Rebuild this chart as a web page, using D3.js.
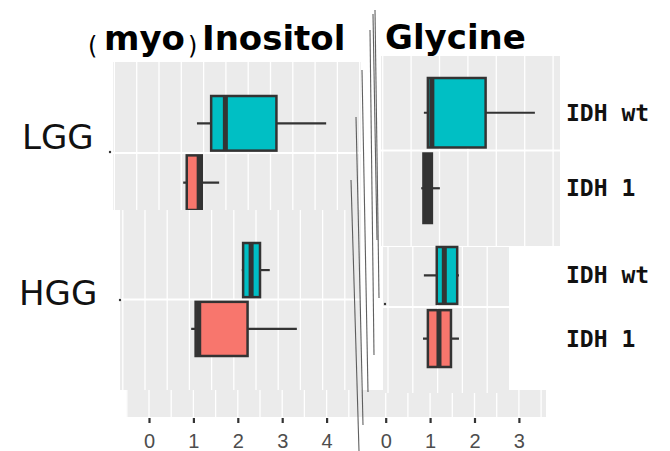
<!DOCTYPE html>
<html>
<head>
<meta charset="utf-8">
<script src="https://cdnjs.cloudflare.com/ajax/libs/d3/7.8.5/d3.min.js"></script>
<style>
body{margin:0;background:#fff;}
svg{display:block;}
</style>
</head>
<body>
<svg></svg>
<script>
var width = 670;
var height = 451;

var grades = ["LGG", "HGG"];
var groups = ["IDH wt", "IDH 1"];
var inositolTicks = [0, 1, 2, 3, 4];
var glycineTicks = [0, 1, 2, 3];
// each box: [lower whisker, Q1, median, Q3, upper whisker]
var inositolLGG = [[1.08, 1.40, 1.72, 2.87, 3.99], [0.77, 0.85, 1.13, 1.19, 1.58]];
var inositolHGG = [[2.09, 2.12, 2.30, 2.50, 2.72], [0.95, 1.05, 1.12, 2.22, 3.33]];
var glycineLGG = [[0.86, 0.95, 1.04, 2.25, 3.36], [0.80, 0.85, 0.95, 1.04, 1.22]];
var glycineHGG = [[0.86, 1.15, 1.32, 1.61, 1.65], [0.84, 0.95, 1.20, 1.47, 1.65]];

var colorScale = d3.scaleOrdinal().domain(groups).range(["#00BFC4", "#F8766D"]);
var xInositol = d3.scaleLinear().domain([0, 4]).range([149, 326.6]);
var xGlycine = d3.scaleLinear().domain([0, 3]).range([385.7, 518.9]);

//the figure is a patchwork, every piece has its own grey area and grid
var panels = [
  {stats: inositolLGG, x: xInositol, area: [113, 361, 62, 210], rows: [96, 210], pad: 0.08, grid: [159, 203.6]},
  {stats: inositolHGG, x: xInositol, area: [120, 361, 210, 390], rows: [243, 356], pad: 0.08, grid: [145, 189.4]},
  {stats: glycineLGG, x: xGlycine, area: [381, 560, 56, 246], rows: [78, 223], pad: 0.08, grid: [382.7, 439.5]},
  {stats: glycineHGG, x: xGlycine, area: [383, 509, 247, 393], rows: [247, 367], pad: 0.1, grid: [388, 437.6]}
];

var svg = d3.select("svg")
    .attr("width", width)
    .attr("height", height);

//bottom strip above the axes
svg.append("rect")
    .attr("x", 126).attr("y", 390)
    .attr("width", 420).attr("height", 27)
    .attr("fill", "#EBEBEB");
var stripLines = d3.range(-0.5, 4.6, 0.5).map(v => xInositol(v))
    .concat(d3.range(0, 3.6, 0.5).map(v => xGlycine(v)));
svg.selectAll(".stripgrid")
    .data(stripLines)
  .enter().append("line")
    .attr("x1", d => d).attr("x2", d => d)
    .attr("y1", 390).attr("y2", 417)
    .attr("stroke", "#fff")
    .attr("stroke-width", 1.3);

panels.forEach(function(p) {
  var g = svg.append("g");
  var a = p.area;
  g.append("rect")
      .attr("x", a[0]).attr("y", a[2])
      .attr("width", a[1] - a[0]).attr("height", a[3] - a[2])
      .attr("fill", "#EBEBEB");

  var gx = d3.scaleLinear().domain([0, 1]).range(p.grid);
  var lo = Math.ceil(gx.invert(a[0]) * 2) / 2;
  var hi = gx.invert(a[1]);
  g.selectAll(".grid")
      .data(d3.range(lo, hi, 0.5))
    .enter().append("line")
      .attr("x1", d => gx(d)).attr("x2", d => gx(d))
      .attr("y1", a[2]).attr("y2", a[3])
      .attr("stroke", "#fff")
      .attr("stroke-width", 1.3);

  var y = d3.scaleBand().domain(groups).range(p.rows).paddingInner(p.pad);
  var sep = y(groups[1]) - (y.step() - y.bandwidth()) / 2;
  g.append("line")
      .attr("x1", a[0]).attr("x2", a[1])
      .attr("y1", sep).attr("y2", sep)
      .attr("stroke", "#fff")
      .attr("stroke-width", 2);

  var boxes = g.selectAll(".box")
      .data(p.stats.map((s, i) => ({group: groups[i], s: s})))
    .enter().append("g");
  boxes.append("line")
      .attr("x1", d => p.x(d.s[0])).attr("x2", d => p.x(d.s[4]))
      .attr("y1", d => y(d.group) + y.bandwidth() / 2)
      .attr("y2", d => y(d.group) + y.bandwidth() / 2)
      .attr("stroke", "#333")
      .attr("stroke-width", 2.2);
  boxes.append("rect")
      .attr("x", d => p.x(d.s[1]))
      .attr("width", d => p.x(d.s[3]) - p.x(d.s[1]))
      .attr("y", d => y(d.group))
      .attr("height", y.bandwidth())
      //very narrow boxes turn completely dark in the picture
      .attr("fill", d => p.x(d.s[3]) - p.x(d.s[1]) < 12 ? "#333" : colorScale(d.group))
      .attr("stroke", "#333")
      .attr("stroke-width", 2.5);
  boxes.append("line")
      .attr("x1", d => p.x(d.s[2])).attr("x2", d => p.x(d.s[2]))
      .attr("y1", d => y(d.group))
      .attr("y2", d => y(d.group) + y.bandwidth())
      .attr("stroke", "#333")
      .attr("stroke-width", 5);

  //row labels on the right of the glycine panel
  if (p.x === xGlycine) {
    g.selectAll(".lab")
        .data(groups)
      .enter().append("text")
        .attr("x", 566)
        .attr("y", d => y(d) + y.bandwidth() / 2 + 8)
        .attr("font-family", "DejaVu Sans Mono")
        .attr("font-weight", "bold")
        .attr("font-size", 23)
        .attr("fill", "#111")
        .text(d => d);
  }
});

//axes
[[xInositol, inositolTicks], [xGlycine, glycineTicks]].forEach(function(ax) {
  var axis = svg.append("g")
      .attr("transform", "translate(0,418)")
      .call(d3.axisBottom(ax[0]).tickValues(ax[1]).tickFormat(d3.format("d"))
        .tickSize(5).tickPadding(11));
  axis.select(".domain").remove();
  axis.selectAll(".tick line").attr("stroke", "#333").attr("stroke-width", 2.2);
  axis.selectAll(".tick text")
      .attr("fill", "#4d4d4d")
      .attr("font-family", "Liberation Sans")
      .attr("font-size", 20);
});

//grade labels
svg.selectAll(".grade")
    .data(grades)
  .enter().append("text")
    .attr("x", (d, i) => i ? 19 : 22)
    .attr("y", (d, i) => i ? 305 : 149)
    .attr("font-family", "DejaVu Sans")
    .attr("font-size", 34)
    .attr("fill", "#111")
    .text(d => d);

//stray dots from the patchwork
svg.selectAll(".dot")
    .data([[110, 152], [120, 300], [385, 304]])
  .enter().append("circle")
    .attr("cx", d => d[0]).attr("cy", d => d[1])
    .attr("r", 1.2)
    .attr("fill", "#333");

//titles
var titleFont = {family: "DejaVu Sans", size: 34};
svg.append("text").attr("x", 88).attr("y", 54)
    .attr("font-family", "DejaVu Sans").attr("font-size", 24).text("(");
svg.append("text").attr("x", 104).attr("y", 50)
    .attr("font-family", titleFont.family).attr("font-weight", "bold")
    .attr("font-size", titleFont.size).text("myo");
svg.append("text").attr("x", 188).attr("y", 54)
    .attr("font-family", "DejaVu Sans").attr("font-size", 24).text(")");
svg.append("text").attr("x", 202).attr("y", 50)
    .attr("font-family", titleFont.family).attr("font-weight", "bold")
    .attr("font-size", titleFont.size).text("Inositol");
svg.append("text").attr("x", 385).attr("y", 49)
    .attr("font-family", titleFont.family).attr("font-weight", "bold")
    .attr("font-size", titleFont.size).text("Glycine");

//the hand drawn break between the two panels
var breakStrokes = [
  [[375, 10], [379, 298]],
  [[373, 14], [377, 240]],
  [[370, 30], [374, 355]],
  [[362, 70], [368, 392]],
  [[356, 117], [363, 425]],
  [[351, 180], [359, 451]]
];
svg.selectAll(".brk")
    .data(breakStrokes)
  .enter().append("path")
    .attr("d", d3.line())
    .attr("fill", "none")
    .attr("stroke", "#444")
    .attr("stroke-opacity", 0.85)
    .attr("stroke-width", 1.1);
</script>
</body>
</html>
